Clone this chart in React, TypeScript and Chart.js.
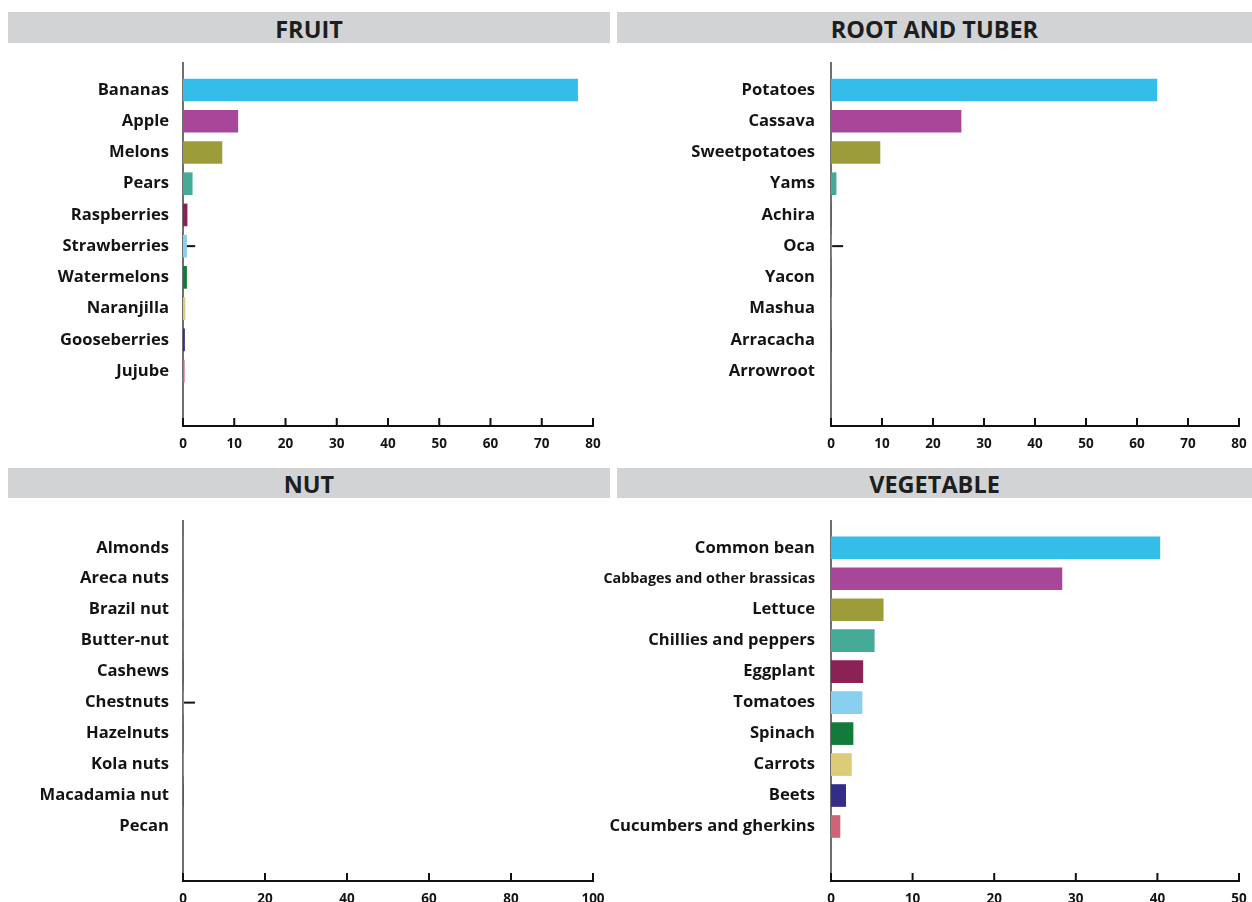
import React, { useEffect, useRef } from "react";
import { Chart, registerables } from "chart.js";

Chart.register(...registerables);

const COLORS = ["#35bdea", "#a8479a", "#9c9c3a", "#45ab98", "#8a2257", "#89cff0", "#137a3c", "#ddcc77", "#332d88", "#cc6677"];

const fruitLabels = ["Bananas", "Apple", "Melons", "Pears", "Raspberries", "Strawberries", "Watermelons", "Naranjilla", "Gooseberries", "Jujube"];
const fruitValues = [77, 10.7, 7.6, 1.8, 0.8, 0.7, 0.7, 0.4, 0.3, 0.25];
const fruitMarker = 1.3;
const fruitTicks = [0, 10, 20, 30, 40, 50, 60, 70, 80];

const rootLabels = ["Potatoes", "Cassava", "Sweetpotatoes", "Yams", "Achira", "Oca", "Yacon", "Mashua", "Arracacha", "Arrowroot"];
const rootValues = [63.9, 25.5, 9.6, 1.0, 0, 0, 0, 0, 0, 0];
const rootMarker = 1.3;
const rootTicks = [0, 10, 20, 30, 40, 50, 60, 70, 80];

const nutLabels = ["Almonds", "Areca nuts", "Brazil nut", "Butter-nut", "Cashews", "Chestnuts", "Hazelnuts", "Kola nuts", "Macadamia nut", "Pecan"];
const nutValues = [0, 0, 0, 0, 0, 0, 0, 0, 0, 0];
const nutMarker = 1.6;
const nutTicks = [0, 20, 40, 60, 80, 100];

const vegLabels = ["Common bean", "Cabbages and other brassicas", "Lettuce", "Chillies and peppers", "Eggplant", "Tomatoes", "Spinach", "Carrots", "Beets", "Cucumbers and gherkins"];
const vegValues = [40.3, 28.3, 6.4, 5.3, 3.9, 3.8, 2.7, 2.5, 1.8, 1.1];
const vegMarker = null;
const vegTicks = [0, 10, 20, 30, 40, 50];

const FONT = "'Open Sans', 'Noto Sans', sans-serif";

const innerTicks = {
  id: "innerTicks",
  afterDraw(chart: any) {
    const sx = chart.scales.x;
    const ctx = chart.ctx;
    const bottom = chart.chartArea.bottom;
    ctx.save();
    ctx.strokeStyle = "#111";
    ctx.lineWidth = 2;
    sx.ticks.forEach((t: any) => {
      const px = sx.getPixelForValue(t.value);
      ctx.beginPath();
      ctx.moveTo(px, bottom);
      ctx.lineTo(px, bottom - 8);
      ctx.stroke();
    });
    ctx.restore();
  },
};

type PanelProps = {
  title: string;
  labels: string[];
  values: number[];
  marker: number | null;
  ticks: number[];
  left: number;
  top: number;
  width: number;
  headerHeight: number;
  canvasLeft: number;
  canvasTop: number;
  canvasHeight: number;
  yWidth: number;
  padRight: number;
  xHeight: number;
  labelPad: number;
};

function Panel(p: PanelProps) {
  const ref = useRef<HTMLCanvasElement | null>(null);
  const canvasWidth = p.left + p.width - p.canvasLeft;
  useEffect(() => {
    if (!ref.current) return;
    const datasets: any[] = [
      {
        type: "bar",
        data: p.values.map((v, i) => ({ x: v, y: i })),
        backgroundColor: COLORS,
        barThickness: 22,
        borderWidth: 0,
      },
    ];
    if (p.marker !== null) {
      datasets.push({
        type: "scatter",
        data: [{ x: p.marker, y: 5 }],
        pointStyle: "line",
        radius: 5.5,
        borderWidth: 2,
        borderColor: "#111",
        backgroundColor: "#111",
      });
    }
    const maxTick = p.ticks[p.ticks.length - 1];
    const step = p.ticks[1] - p.ticks[0];
    const chart = new Chart(ref.current, {
      type: "bar",
      data: { datasets },
      options: {
        indexAxis: "y",
        animation: false,
        responsive: false,
        maintainAspectRatio: false,
        layout: { padding: { top: 13, right: p.padRight, left: 0, bottom: 0 } },
        plugins: { legend: { display: false }, tooltip: { enabled: false } },
        scales: {
          y: {
            type: "linear",
            reverse: true,
            offset: false,
            bounds: "data",
            min: -0.865,
            max: 10.76,
            afterBuildTicks: (scale: any) => {
              scale.ticks = p.labels.map((_, i) => ({ value: i }));
            },
            afterFit: (scale: any) => {
              scale.width = p.yWidth;
              scale.paddingTop = 0;
              scale.paddingBottom = 0;
            },
            grid: { display: false, drawTicks: false },
            border: { display: true, color: "#6f6f6f", width: 2 },
            ticks: {
              padding: p.labelPad,
              color: "#141414",
              callback: (v: any) => p.labels[v as number],
              font: (ctx: any) => {
                const lbl = p.labels[ctx.tick ? ctx.tick.value : 0] || "";
                return { family: FONT, weight: "bold", size: lbl.length > 24 ? 14.3 : 16.6 };
              },
            },
          },
          x: {
            type: "linear",
            min: 0,
            max: maxTick,
            offset: false,
            afterBuildTicks: (scale: any) => {
              scale.ticks = p.ticks.map((v) => ({ value: v }));
            },
            afterFit: (scale: any) => {
              scale.height = p.xHeight;
              scale.paddingLeft = 0;
              scale.paddingRight = 0;
            },
            grid: { display: false, drawTicks: false },
            border: { display: true, color: "#111", width: 2 },
            ticks: {
              stepSize: step,
              padding: 10,
              color: "#141414",
              maxRotation: 0,
              font: { family: FONT, weight: "bold", size: 13.5 },
            },
          },
        },
      },
      plugins: [innerTicks],
    } as any);
    return () => chart.destroy();
  }, []);
  return (
    <>
      <div
        style={{
          position: "absolute",
          left: p.left,
          top: p.top,
          width: p.width,
          height: p.headerHeight,
          background: "#d1d3d4",
          color: "#1e1e1e",
          fontFamily: FONT,
          fontWeight: 700,
          fontSize: 23.5,
          lineHeight: p.headerHeight + 3 + "px",
          textAlign: "center",
          overflow: "hidden",
        }}
      >
        {p.title}
      </div>
      <canvas
        ref={ref}
        width={canvasWidth}
        height={p.canvasHeight}
        style={{ position: "absolute", left: p.canvasLeft, top: p.canvasTop, width: canvasWidth, height: p.canvasHeight }}
      />
    </>
  );
}

export default function App() {
  return (
    <div style={{ position: "fixed", left: 0, top: 0, width: 1252, height: 902, overflow: "hidden", background: "#fff" }}>
      <Panel title="FRUIT" labels={fruitLabels} values={fruitValues} marker={fruitMarker} ticks={fruitTicks}
        left={8} top={12} width={602} headerHeight={31} canvasLeft={8} canvasTop={50} canvasHeight={410} yWidth={175} padRight={17} xHeight={34} labelPad={14} />
      <Panel title="ROOT AND TUBER" labels={rootLabels} values={rootValues} marker={rootMarker} ticks={rootTicks}
        left={617} top={12} width={635} headerHeight={31} canvasLeft={567} canvasTop={50} canvasHeight={410} yWidth={264} padRight={13} xHeight={34} labelPad={16} />
      <Panel title="NUT" labels={nutLabels} values={nutValues} marker={nutMarker} ticks={nutTicks}
        left={8} top={468} width={602} headerHeight={30} canvasLeft={8} canvasTop={508} canvasHeight={394} yWidth={175} padRight={17} xHeight={21} labelPad={14} />
      <Panel title="VEGETABLE" labels={vegLabels} values={vegValues} marker={vegMarker} ticks={vegTicks}
        left={617} top={468} width={635} headerHeight={30} canvasLeft={567} canvasTop={508} canvasHeight={394} yWidth={264} padRight={13} xHeight={21} labelPad={16} />
    </div>
  );
}
